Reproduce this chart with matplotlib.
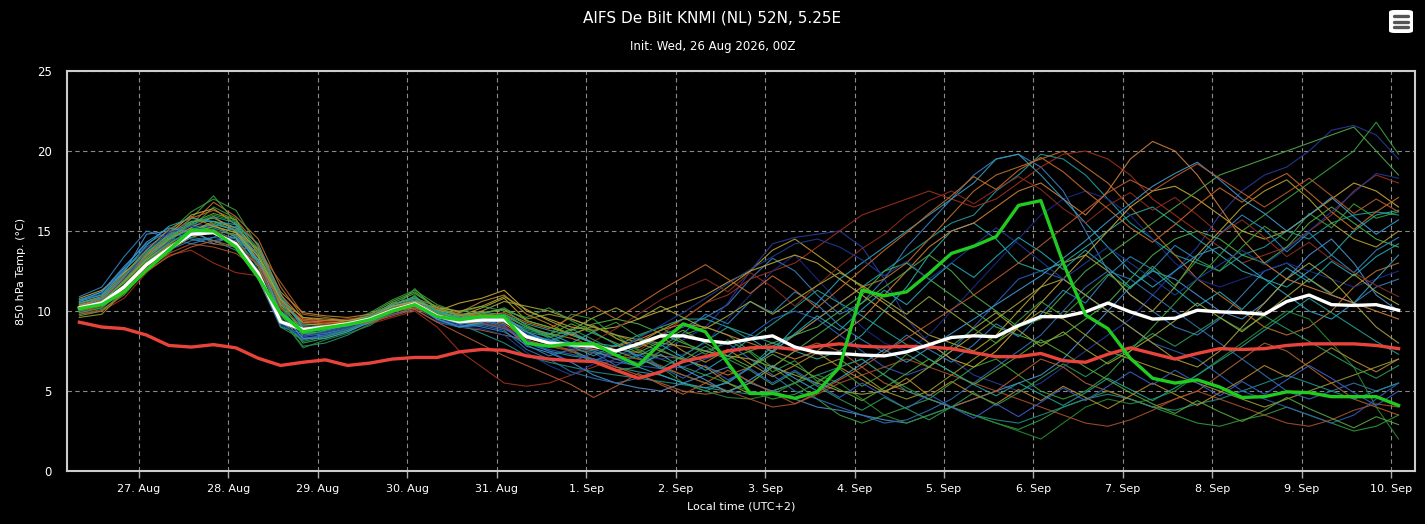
import matplotlib
matplotlib.use('Agg')
from matplotlib import pyplot as plt
import matplotlib.dates as mdates
from matplotlib.patches import FancyBboxPatch
import pandas as pd

# 6-hourly steps, local time (UTC+2), from 26 Aug 08:00 to 10 Sep 02:00
times = pd.date_range('2026-08-26 08:00', periods=60, freq='6h')

mean_run = [10.2, 10.5, 11.5, 12.9, 13.9, 14.8, 14.9, 14.2, 12.35, 9.33, 8.85, 9.0, 9.2, 9.5, 10.05,
            10.45, 9.7, 9.33, 9.44, 9.44, 8.4, 8.0, 7.9, 7.8, 7.5, 7.95, 8.45, 8.45, 8.15, 8.0,
            8.25, 8.45, 7.75, 7.4, 7.35, 7.25, 7.2, 7.45, 7.9, 8.35, 8.45, 8.4, 9.1, 9.65, 9.65,
            9.95, 10.5, 9.95, 9.5, 9.55, 10.05, 9.95, 9.9, 9.8, 10.6, 11.0, 10.4, 10.35, 10.4, 10.05]

control_run = [10.15, 10.4, 11.2, 12.55, 13.8, 15.05, 15.0, 14.0, 12.1, 9.85, 8.7, 8.95, 9.15, 9.45, 10.0,
               10.4, 9.65, 9.45, 9.65, 9.65, 8.0, 7.8, 7.95, 7.95, 7.25, 6.6, 8.0, 9.2, 8.7, 6.75,
               4.85, 4.85, 4.55, 4.95, 6.5, 11.3, 10.95, 11.2, 12.35, 13.6, 14.05, 14.65, 16.6, 16.9, 13.0,
               9.75, 8.9, 7.05, 5.8, 5.5, 5.7, 5.25, 4.6, 4.65, 4.95, 4.9, 4.65, 4.65, 4.65, 4.1]

climate = [9.3, 9.0, 8.9, 8.5, 7.85, 7.75, 7.9, 7.7, 7.05, 6.6, 6.8, 6.95, 6.6, 6.75, 7.0,
           7.1, 7.1, 7.45, 7.6, 7.55, 7.2, 7.0, 6.9, 6.85, 6.3, 5.8, 6.2, 6.85, 7.15, 7.5,
           7.7, 7.75, 7.6, 7.8, 7.95, 7.8, 7.75, 7.8, 7.75, 7.65, 7.4, 7.15, 7.15, 7.35, 6.9,
           6.8, 7.3, 7.7, 7.35, 7.0, 7.35, 7.65, 7.6, 7.65, 7.85, 7.95, 7.95, 7.95, 7.85, 7.65]

members = [
    [10.6, 11.2, 12.8, 14.2, 15.0, 15.5, 15.2, 14.0, 12.0, 9.0, 8.6, 8.8, 9.1, 9.4, 10.2, 10.6, 9.9, 9.6, 9.5, 9.6, 8.6,
     8.2, 8.0, 7.6, 7.2, 7.8, 8.5, 9.0, 9.6, 10.4, 12.0, 13.3, 12.5, 11.0, 9.8, 10.5,
     12.0, 14.0, 15.5, 17.0, 18.5, 19.5, 19.8, 19.0, 17.5, 15.0, 12.5, 11.0,
     10.0, 9.0, 8.5, 9.5, 11.0, 12.5, 13.0, 12.0, 11.0, 10.5, 11.5, 12.0],
    [10.0, 10.4, 11.6, 13.0, 14.2, 15.0, 15.3, 14.6, 12.8, 9.6, 8.8, 9.0, 9.3, 9.7, 10.1, 10.3, 9.5, 9.2, 9.3, 9.0, 8.3,
     8.1, 7.7, 7.4, 7.0, 6.8, 7.5, 8.2, 9.0, 10.5, 12.5, 14.2, 14.6, 14.8, 15.0, 14.0,
     12.0, 9.5, 8.0, 7.0, 6.0, 5.5, 5.0, 5.5, 6.5, 7.5, 8.5, 9.5,
     11.0, 12.5, 14.0, 16.0, 17.5, 18.5, 19.0, 20.0, 21.3, 21.6, 21.0, 19.5],
    [9.8, 10.1, 11.0, 12.6, 13.6, 15.2, 16.5, 15.8, 12.5, 9.0, 8.2, 8.5, 8.8, 9.3, 9.9, 11.0, 9.4, 9.0, 9.2, 9.5, 8.8,
     8.5, 9.8, 9.5, 8.3, 7.6, 7.0, 6.5, 6.0, 5.5, 5.0, 4.5, 4.8, 5.5, 6.5, 7.0,
     6.0, 5.2, 4.5, 4.0, 3.5, 3.0, 2.6, 3.2, 4.0, 4.5, 5.0, 4.5,
     4.0, 3.5, 3.0, 2.8, 3.2, 3.5, 4.0, 3.5, 3.0, 2.5, 2.8, 3.5],
    [10.4, 10.8, 12.0, 13.6, 14.6, 15.4, 15.0, 14.5, 12.8, 10.0, 8.6, 8.7, 9.0, 9.5, 10.3, 10.6, 9.8, 9.3, 9.4, 9.0, 8.0,
     7.5, 7.2, 7.0, 6.5, 6.2, 6.0, 5.5, 5.0, 5.6, 6.5, 7.8, 8.5, 9.5, 10.5, 11.5,
     12.5, 13.5, 14.5, 15.5, 16.0, 17.5, 18.5, 19.8, 19.5, 18.5, 17.0, 15.5,
     14.5, 13.5, 13.0, 12.5, 13.5, 14.0, 15.0, 14.5, 15.5, 16.0, 16.2, 16.0],
    [10.1, 10.3, 11.4, 12.8, 13.8, 14.6, 15.0, 14.8, 13.2, 10.5, 9.3, 9.2, 9.4, 9.6, 10.0, 10.2, 9.8, 9.7, 10.2, 10.8, 9.4,
     9.0, 8.6, 8.0, 7.5, 8.0, 8.8, 9.5, 10.5, 11.5, 12.5, 13.8, 14.5, 13.5, 12.5, 11.5,
     10.5, 9.5, 8.5, 8.0, 7.5, 8.5, 10.0, 11.5, 13.0, 13.5, 12.5, 11.0,
     10.0, 11.5, 13.5, 15.0, 16.5, 17.5, 18.2, 17.0, 15.5, 14.5, 14.0, 15.0],
    [10.3, 10.6, 12.2, 13.5, 14.4, 15.4, 16.8, 15.9, 14.5, 11.5, 9.6, 9.4, 9.5, 9.6, 10.5, 10.7, 10.0, 9.6, 9.8, 9.7, 9.0,
     8.6, 8.3, 7.8, 7.6, 7.4, 7.2, 7.0, 6.5, 6.0, 6.5, 7.5, 8.5, 9.5, 10.5, 11.5,
     12.0, 13.0, 14.5, 16.0, 17.5, 18.5, 19.0, 19.5, 20.0, 19.0, 18.0, 16.5,
     15.0, 13.5, 12.0, 11.0, 10.0, 9.0, 8.5, 9.0, 10.0, 11.5, 12.5, 13.0],
    [9.9, 10.0, 10.8, 12.4, 13.5, 13.8, 13.0, 12.4, 12.2, 11.0, 9.5, 9.3, 9.1, 9.2, 9.6, 10.0, 9.0, 7.5, 6.5, 5.5, 5.3,
     5.5, 6.0, 6.5, 7.0, 7.5, 8.5, 9.5, 10.5, 11.0, 12.0, 12.5, 13.0, 14.0, 15.0, 16.0,
     16.5, 17.0, 17.5, 17.0, 16.5, 17.0, 18.0, 19.0, 19.8, 20.0, 19.5, 18.5,
     17.0, 16.0, 15.0, 14.0, 13.0, 13.5, 14.0, 15.0, 16.0, 17.5, 18.5, 18.0],
    [10.5, 10.9, 12.4, 14.8, 15.0, 14.5, 14.2, 14.8, 13.0, 10.2, 8.5, 8.6, 8.9, 9.4, 10.0, 10.3, 9.6, 9.4, 9.5, 9.1, 7.8,
     7.4, 6.8, 6.0, 5.5, 5.2, 5.0, 5.5, 6.0, 6.5, 5.5, 5.0, 4.5, 4.0, 3.8, 3.5,
     3.2, 3.0, 3.5, 4.0, 4.5, 5.0, 5.5, 6.0, 7.0, 8.5, 10.0, 11.5,
     12.5, 12.0, 11.0, 10.0, 9.5, 10.5, 12.0, 13.5, 14.5, 13.0, 11.0, 10.0],
    [10.2, 10.6, 11.8, 13.2, 14.4, 15.8, 17.2, 15.5, 13.0, 9.8, 8.0, 8.3, 8.7, 9.4, 10.1, 11.4, 10.0, 9.2, 9.3, 9.6, 8.5,
     8.0, 7.5, 6.8, 6.3, 6.5, 7.5, 8.5, 9.0, 8.5, 7.5, 6.5, 5.5, 4.5, 3.5, 3.0,
     3.5, 4.0, 4.5, 5.5, 6.5, 7.0, 6.0, 5.0, 4.5, 5.0, 6.0, 7.5,
     9.0, 10.5, 12.0, 13.5, 15.0, 16.0, 17.0, 18.0, 19.0, 20.0, 21.8, 19.8],
    [10.7, 11.0, 12.6, 13.8, 14.8, 15.6, 15.6, 15.0, 13.5, 10.8, 9.0, 8.9, 9.2, 9.6, 10.4, 10.8, 10.0, 9.8, 9.9, 9.8, 9.2,
     8.8, 8.5, 8.0, 7.8, 8.5, 9.0, 9.5, 9.5, 9.0, 8.5, 8.0, 7.5, 7.0, 7.5, 8.5,
     10.0, 11.5, 13.5, 15.0, 15.5, 14.5, 13.0, 12.5, 13.0, 14.0, 15.0, 16.0,
     16.5, 15.5, 14.5, 13.5, 12.5, 12.0, 11.5, 12.5, 13.5, 15.0, 16.0, 16.3],
    [9.6, 9.8, 11.2, 12.8, 14.0, 15.0, 15.4, 14.6, 12.0, 9.2, 8.7, 8.9, 9.2, 9.6, 10.2, 10.5, 9.9, 9.6, 9.9, 10.1, 9.5,
     9.8, 9.5, 9.0, 8.5, 8.0, 7.5, 7.0, 6.5, 5.5, 4.8, 5.0, 5.5, 6.5, 7.0, 6.0,
     5.0, 4.5, 5.0, 6.0, 7.0, 8.0, 9.0, 10.0, 9.5, 8.5, 7.5, 7.0,
     6.5, 6.0, 5.5, 5.0, 4.5, 4.0, 4.5, 5.0, 5.5, 6.0, 6.5, 7.0],
    [10.4, 10.9, 12.2, 13.9, 15.0, 15.5, 15.2, 14.2, 12.6, 9.4, 8.6, 8.8, 9.1, 9.5, 10.4, 10.7, 9.7, 9.4, 9.6, 9.3, 8.6,
     8.2, 8.0, 7.8, 7.5, 7.2, 7.0, 7.3, 8.0, 9.5, 11.0, 12.5, 13.5, 12.0, 10.5, 9.0,
     8.0, 7.5, 8.5, 10.0, 11.5, 13.0, 14.5, 16.0, 17.0, 17.5, 17.0, 16.0,
     14.5, 13.0, 12.0, 11.5, 12.0, 12.5, 13.0, 12.5, 12.0, 11.5, 12.0, 12.5],
    [10.0, 10.3, 11.5, 13.0, 14.5, 15.2, 14.2, 14.0, 13.8, 11.8, 9.8, 9.6, 9.4, 9.3, 9.8, 10.2, 9.5, 9.0, 8.8, 8.5, 8.2,
     7.8, 7.5, 7.0, 6.5, 6.0, 5.5, 5.0, 4.8, 5.0, 5.5, 6.5, 7.5, 8.0, 7.5, 6.5,
     5.5, 5.0, 4.5, 4.0, 4.5, 5.0, 6.0, 7.0, 6.5, 5.5, 5.0, 4.5,
     4.0, 4.5, 5.0, 6.0, 7.0, 8.0, 7.5, 6.5, 5.5, 4.5, 4.0, 3.5],
    [10.5, 10.8, 12.0, 13.4, 14.6, 15.6, 15.8, 15.2, 13.4, 10.4, 8.9, 9.0, 9.2, 9.8, 10.6, 11.2, 10.2, 9.8, 9.6, 9.8, 9.0,
     8.4, 8.8, 9.2, 9.5, 9.2, 8.6, 8.0, 7.5, 7.0, 7.5, 8.0, 8.5, 9.0, 10.0, 11.0,
     12.5, 13.0, 12.0, 11.0, 10.0, 9.0, 8.5, 8.0, 8.5, 9.5, 10.5, 12.0,
     13.5, 14.5, 15.0, 14.5, 13.5, 13.0, 14.0, 15.5, 16.5, 15.5, 14.5, 14.0],
    [9.9, 10.2, 11.3, 12.6, 13.8, 14.4, 14.6, 14.4, 12.2, 9.1, 8.4, 8.6, 8.9, 9.3, 9.8, 10.1, 9.3, 9.0, 9.1, 8.8, 7.6,
     7.0, 6.2, 5.8, 5.5, 5.8, 6.2, 6.8, 7.5, 8.0, 7.0, 6.0, 5.0, 4.5, 4.0, 3.5,
     3.0, 3.2, 3.8, 4.5, 5.5, 6.5, 7.5, 8.5, 10.0, 11.5, 12.5, 12.0,
     11.0, 10.0, 9.0, 8.0, 7.0, 6.0, 5.0, 4.5, 5.0, 5.5, 5.0, 5.5],
    [10.8, 11.3, 12.4, 13.6, 14.8, 16.0, 16.4, 15.4, 13.6, 10.6, 9.2, 9.1, 9.3, 9.6, 10.2, 10.5, 10.0, 10.5, 10.8, 11.3, 10.0,
     9.5, 9.0, 8.8, 9.0, 9.5, 10.0, 10.5, 11.0, 11.8, 12.5, 13.0, 13.5, 13.0, 12.0, 11.0,
     10.0, 9.0, 8.0, 7.0, 6.5, 7.5, 9.0, 10.5, 12.0, 13.5, 15.0, 16.5,
     17.5, 17.8, 17.0, 16.0, 15.0, 14.5, 15.0, 16.0, 17.0, 18.0, 17.5, 16.5],
    [10.2, 10.5, 11.6, 13.0, 14.0, 14.6, 14.4, 13.8, 12.5, 9.5, 7.8, 8.0, 8.5, 9.2, 10.0, 10.4, 9.6, 9.2, 8.6, 8.0, 7.2,
     6.8, 6.5, 6.2, 6.0, 5.8, 5.6, 5.4, 5.2, 5.0, 4.8, 5.0, 5.5, 6.0, 6.5, 7.0,
     6.0, 5.0, 4.5, 4.0, 3.5, 3.2, 3.0, 3.5, 4.0, 4.5, 4.8, 4.5,
     4.0, 3.8, 4.2, 4.5, 5.0, 5.5, 6.0, 5.5, 5.0, 4.5, 5.0, 5.5],
    [10.1, 10.4, 11.7, 13.1, 14.3, 15.4, 16.0, 15.6, 13.0, 9.6, 7.7, 8.2, 8.6, 9.1, 10.0, 10.4, 9.6, 9.4, 9.2, 9.0, 8.4,
     8.0, 8.6, 9.0, 8.5, 7.5, 6.5, 5.5, 5.0, 4.6, 4.5, 4.8, 5.5, 6.0, 5.5, 4.5,
     3.5, 3.0, 3.5, 4.0, 3.5, 3.0, 2.5, 2.0, 3.0, 4.0, 4.5, 4.2,
     4.5, 5.0, 6.0, 7.0, 8.0, 9.0, 10.0, 9.5, 8.0, 6.5, 4.0, 2.0],
    [10.3, 10.7, 11.9, 13.3, 14.5, 15.2, 15.9, 15.0, 13.2, 10.4, 9.4, 9.3, 9.3, 9.5, 10.1, 10.4, 9.9, 9.5, 9.6, 9.2, 8.3,
     8.0, 7.8, 7.6, 7.8, 8.2, 8.8, 9.2, 9.0, 8.5, 8.0, 7.5, 7.0, 7.5, 8.5, 9.5,
     11.0, 12.5, 14.0, 15.0, 15.5, 16.5, 17.5, 18.0, 17.0, 16.0, 17.5, 19.5,
     20.6, 20.0, 18.5, 16.5, 14.5, 13.0, 12.0, 11.5, 11.0, 10.5, 10.0, 9.5],
    [10.6, 11.1, 12.6, 14.0, 14.8, 15.3, 15.0, 14.3, 12.4, 9.3, 8.3, 8.5, 8.9, 9.4, 10.2, 10.5, 9.6, 9.3, 9.4, 9.1, 8.0,
     7.6, 7.3, 7.0, 6.8, 6.6, 6.4, 6.5, 7.0, 7.5, 8.5, 9.5, 10.0, 9.5, 8.5, 7.5,
     6.5, 6.0, 6.5, 7.5, 9.0, 10.5, 12.0, 12.5, 12.0, 11.0, 10.0, 9.0,
     8.0, 7.5, 7.0, 6.0, 5.0, 4.5, 4.0, 3.5, 3.0, 3.5, 4.5, 5.5],
    [9.7, 10.0, 11.2, 12.9, 13.9, 15.0, 15.5, 15.0, 12.8, 9.8, 8.6, 8.7, 9.0, 9.6, 10.4, 10.9, 9.9, 9.5, 9.8, 10.2, 9.4,
     9.0, 8.5, 8.0, 7.5, 7.0, 6.5, 6.0, 5.5, 5.0, 5.5, 6.5, 7.5, 8.5, 9.5, 10.5,
     11.5, 12.5, 13.5, 12.5, 11.0, 10.0, 9.0, 9.5, 11.0, 12.5, 13.5, 14.5,
     15.5, 16.5, 17.5, 18.5, 19.0, 19.5, 20.0, 20.5, 21.0, 21.5, 20.0, 18.5],
    [10.0, 10.2, 11.4, 12.7, 13.6, 14.2, 14.0, 13.6, 12.6, 10.2, 9.0, 9.0, 9.2, 9.4, 9.9, 10.3, 9.6, 9.3, 9.2, 8.9, 8.1,
     7.8, 7.6, 7.4, 7.2, 7.0, 6.6, 6.0, 5.5, 5.0, 4.5, 4.0, 4.2, 4.8, 5.5, 6.0,
     6.5, 7.0, 6.5, 6.0, 5.5, 5.0, 4.5, 4.0, 3.5, 3.0, 2.8, 3.2,
     3.8, 4.5, 5.0, 4.5, 4.0, 3.5, 3.0, 2.8, 3.2, 3.8, 4.2, 4.0],
    [10.3, 10.8, 12.1, 13.5, 14.5, 15.1, 15.4, 15.1, 13.0, 10.0, 8.8, 8.9, 9.1, 9.5, 10.3, 10.6, 9.8, 9.5, 9.5, 9.4, 8.5,
     8.2, 7.8, 7.5, 7.0, 6.5, 6.0, 5.5, 5.2, 5.5, 6.5, 7.5, 9.0, 10.5, 12.0, 13.0,
     14.0, 15.0, 16.0, 17.0, 18.0, 19.5, 19.8, 18.5, 17.0, 15.5, 14.0, 12.5,
     11.5, 12.5, 13.5, 14.0, 13.0, 12.0, 11.0, 10.0, 9.5, 10.5, 12.0, 13.5],
    [10.4, 10.6, 11.8, 13.2, 14.2, 15.0, 15.6, 15.2, 13.8, 10.8, 9.2, 9.1, 9.2, 9.6, 10.3, 10.6, 10.1, 9.7, 10.0, 10.6, 10.3,
     10.0, 9.5, 9.0, 8.5, 8.2, 8.0, 7.8, 7.5, 7.2, 7.0, 6.5, 6.0, 5.5, 5.0, 4.8,
     5.0, 5.5, 6.5, 7.5, 8.5, 9.5, 10.5, 11.5, 12.0, 11.0, 10.0, 9.0,
     8.0, 7.0, 6.5, 7.5, 9.0, 10.5, 12.0, 13.0, 12.0, 10.5, 9.0, 8.0],
    [10.9, 11.5, 13.4, 15.0, 14.6, 14.2, 14.6, 15.3, 13.4, 10.6, 8.7, 8.4, 8.8, 9.3, 10.1, 10.5, 9.7, 9.3, 9.0, 8.7, 7.9,
     7.2, 7.6, 6.9, 7.4, 8.3, 7.8, 8.6, 9.8, 9.2, 10.6, 9.9, 11.2, 10.4, 9.1, 8.2,
     7.4, 8.5, 7.6, 6.8, 7.9, 9.2, 8.4, 9.8, 11.3, 10.5, 12.2, 13.4,
     12.6, 14.1, 13.2, 14.8, 16.0, 15.1, 13.7, 14.9, 13.5, 12.4, 13.8, 14.6],
    [10.0, 10.5, 11.9, 13.6, 14.9, 16.2, 17.0, 16.3, 14.0, 10.8, 8.4, 8.8, 9.3, 9.9, 10.7, 11.3, 10.4, 9.9, 10.3, 10.0, 9.6,
     10.2, 9.4, 8.7, 9.3, 8.4, 9.0, 8.1, 7.3, 8.2, 7.4, 6.2, 6.9, 5.6, 6.4, 5.3,
     6.1, 7.3, 6.5, 7.8, 8.9, 8.0, 9.4, 10.6, 9.7, 11.0, 12.3, 11.4,
     12.8, 11.6, 13.2, 12.5, 14.0, 15.3, 14.4, 16.1, 15.2, 16.7, 15.8, 16.2],
    [10.5, 10.9, 12.3, 13.8, 15.1, 15.9, 15.3, 14.9, 13.9, 11.2, 9.9, 9.7, 9.6, 9.8, 10.4, 10.8, 10.3, 9.9, 10.6, 11.0, 9.8,
     9.2, 8.5, 9.1, 8.3, 7.7, 8.4, 7.5, 6.8, 7.6, 6.7, 5.9, 6.6, 7.4, 6.5, 5.7,
     4.9, 5.8, 4.7, 5.6, 4.8, 4.2, 5.1, 4.4, 5.3, 4.6, 3.9, 4.7,
     5.5, 4.8, 4.1, 4.9, 5.7, 6.6, 5.9, 6.8, 7.7, 6.9, 6.2, 7.0],
    [10.1, 10.3, 11.3, 12.9, 14.1, 14.9, 15.1, 14.3, 12.9, 10.1, 9.2, 9.3, 9.5, 9.7, 10.2, 10.5, 9.8, 9.4, 9.3, 9.0, 8.4,
     8.0, 7.4, 8.1, 8.9, 9.8, 10.7, 11.4, 12.0, 11.2, 12.4, 11.5, 10.3, 11.6, 12.8, 13.9,
     14.8, 16.0, 16.9, 17.5, 16.7, 17.6, 18.4, 17.6, 16.4, 15.5, 16.6, 17.4,
     16.3, 17.1, 16.0, 14.8, 15.7, 14.6, 13.4, 14.3, 13.2, 12.4, 11.6, 10.9],
    [10.6, 11.0, 12.5, 14.1, 15.3, 15.8, 15.6, 15.4, 14.2, 11.1, 8.9, 8.8, 9.1, 9.6, 10.3, 10.7, 10.0, 9.6, 9.7, 9.5, 8.9,
     8.6, 8.0, 8.7, 7.9, 7.2, 7.9, 7.1, 6.3, 7.2, 8.3, 7.4, 8.6, 9.7, 8.8, 10.1,
     11.3, 10.4, 11.8, 13.0, 12.1, 13.4, 14.6, 13.7, 12.6, 13.8, 12.7, 11.5,
     12.6, 11.4, 10.3, 11.2, 10.1, 11.5, 12.7, 11.8, 13.1, 12.2, 13.4, 14.2],
    [10.2, 10.7, 12.1, 13.3, 14.3, 14.9, 15.0, 14.1, 12.3, 9.3, 8.2, 8.5, 8.8, 9.3, 10.0, 10.4, 9.5, 9.1, 9.2, 8.9, 8.2,
     7.5, 6.8, 7.4, 6.6, 7.3, 6.5, 5.8, 6.6, 5.7, 6.4, 5.5, 6.3, 5.4, 4.6, 5.5,
     4.7, 3.9, 4.8, 4.0, 3.3, 4.2, 3.4, 4.3, 5.2, 4.4, 5.3, 6.2,
     5.4, 6.3, 5.5, 4.7, 5.6, 4.8, 5.7, 6.6, 5.8, 4.9, 4.1, 5.0],
    [10.4, 10.7, 12.1, 13.5, 14.7, 15.8, 16.3, 15.7, 14.1, 11.0, 9.5, 9.4, 9.4, 9.6, 10.2, 10.6, 10.1, 9.8, 9.7, 9.9, 9.3,
     8.9, 9.6, 10.3, 9.5, 10.4, 11.3, 12.1, 12.9, 12.0, 11.1, 12.2, 11.3, 10.2, 11.4, 12.6,
     13.8, 14.9, 16.1, 17.2, 18.4, 17.6, 18.8, 19.6, 18.7, 17.5, 16.4, 15.2,
     14.3, 15.4, 16.6, 17.7, 16.8, 17.9, 18.6, 17.4, 16.2, 15.1, 16.2, 17.1],
    [9.9, 10.2, 11.5, 13.1, 14.2, 15.1, 15.2, 14.7, 12.4, 9.4, 8.1, 8.4, 8.8, 9.4, 10.2, 10.8, 9.9, 9.4, 9.6, 9.8, 9.0,
     8.3, 8.9, 8.2, 7.5, 8.3, 7.6, 6.9, 7.8, 7.0, 6.3, 5.4, 6.2, 5.3, 4.5, 3.8,
     4.6, 3.9, 3.2, 4.0, 4.9, 4.1, 4.9, 5.8, 6.7, 5.9, 6.8, 7.7,
     8.6, 7.8, 8.7, 9.6, 8.8, 9.7, 8.9, 8.1, 7.3, 6.5, 5.8, 6.6],
    [10.3, 10.5, 11.6, 13.0, 14.1, 14.8, 15.3, 14.9, 13.4, 10.7, 9.6, 9.5, 9.4, 9.7, 10.3, 10.6, 10.2, 10.0, 10.3, 10.9, 10.1,
     9.4, 8.8, 9.6, 10.2, 9.5, 10.3, 9.6, 8.9, 9.7, 10.6, 9.8, 10.7, 11.6, 12.4, 11.6,
     10.7, 9.8, 10.9, 9.9, 8.9, 9.9, 8.8, 7.8, 8.7, 7.6, 6.7, 7.5,
     8.4, 9.4, 10.5, 9.6, 8.7, 9.8, 10.9, 12.0, 11.1, 12.3, 11.2, 10.4],
    [10.1, 10.6, 12.0, 13.7, 14.9, 15.3, 14.9, 13.9, 12.1, 9.2, 8.4, 8.7, 9.0, 9.4, 10.1, 10.4, 9.4, 9.0, 8.9, 8.5, 7.4,
     6.6, 6.0, 6.7, 7.5, 8.3, 9.1, 9.9, 10.8, 11.7, 12.6, 13.4, 14.2, 14.5, 14.0, 13.2,
     12.2, 13.1, 12.0, 13.0, 14.1, 15.2, 14.2, 13.1, 12.0, 13.0, 14.0, 13.0,
     12.0, 11.0, 12.0, 12.9, 13.8, 12.9, 13.9, 15.0, 16.2, 17.4, 18.6, 18.3],
    [10.7, 11.2, 12.7, 14.3, 15.2, 14.9, 14.4, 14.6, 13.2, 9.9, 8.3, 8.3, 8.7, 9.3, 10.1, 10.4, 9.5, 9.0, 9.3, 9.7, 8.7,
     8.1, 8.7, 8.0, 7.3, 6.6, 7.3, 6.4, 5.7, 4.9, 5.7, 6.6, 5.8, 5.0, 5.8, 6.7,
     7.6, 6.8, 7.7, 8.6, 9.5, 10.4, 11.3, 12.2, 13.3, 14.4, 15.6, 16.7,
     17.8, 18.6, 19.3, 18.2, 17.0, 16.1, 15.0, 16.0, 17.1, 15.9, 14.8, 15.7],
    [10.2, 10.6, 11.9, 13.3, 14.5, 15.5, 16.1, 15.7, 13.6, 10.3, 8.8, 8.9, 9.1, 9.6, 10.5, 11.1, 10.2, 9.7, 9.9, 10.1, 9.1,
     8.5, 9.2, 8.6, 8.0, 7.4, 8.1, 8.8, 8.0, 7.2, 6.5, 7.3, 6.6, 5.8, 5.1, 4.4,
     5.2, 6.1, 7.0, 6.2, 5.4, 6.3, 7.2, 8.2, 7.4, 6.5, 5.7, 4.9,
     4.2, 3.6, 4.4, 3.7, 3.1, 3.8, 4.6, 3.9, 3.3, 2.7, 3.4, 2.9],
    [9.8, 10.0, 11.1, 12.5, 13.4, 14.0, 14.4, 14.0, 12.9, 10.6, 9.4, 9.2, 9.1, 9.3, 9.7, 10.1, 9.3, 8.6, 7.9, 7.2, 6.6,
     6.0, 5.4, 4.6, 5.3, 6.1, 5.4, 4.8, 5.5, 6.3, 5.6, 4.9, 4.2, 4.9, 5.7, 6.5,
     7.4, 8.3, 9.2, 10.1, 11.0, 12.0, 13.0, 14.1, 15.2, 16.3, 17.4, 18.2,
     17.5, 18.4, 19.2, 18.3, 17.4, 16.5, 17.4, 18.3, 17.2, 16.1, 17.0, 16.2],
    [10.5, 10.8, 12.2, 13.7, 14.7, 15.4, 15.9, 15.5, 13.9, 10.9, 9.1, 9.0, 9.2, 9.7, 10.4, 10.9, 10.0, 9.6, 9.5, 9.3, 8.7,
     8.4, 7.8, 7.2, 7.9, 7.1, 6.4, 7.2, 8.1, 9.0, 8.2, 9.2, 10.2, 11.3, 10.5, 9.7,
     8.8, 7.9, 7.0, 6.2, 5.4, 4.7, 5.5, 4.8, 4.1, 4.9, 5.8, 5.1,
     4.4, 5.2, 6.0, 6.9, 7.8, 8.8, 9.8, 10.8, 9.9, 9.0, 8.1, 7.3],
]

member_colors = ['#3a7fc0', '#2a3a9a', '#2f9a3a', '#1f9e9e', '#b8a030', '#c0702a',
                 '#a0301e', '#4a90d0', '#3aa040', '#28a8a0', '#9a9a30', '#1c2a8a',
                 '#b06030', '#4ab04a', '#3070b0', '#c8a838', '#20908a', '#2a8a30',
                 '#d0803a', '#2c5cb8', '#50a848', '#a85028', '#30a0c0', '#a8a040',
                 '#2e86c1', '#3c9c3c', '#b88a2a', '#8c2c20', '#20a8b8', '#3a5ec8',
                 '#c86a28', '#2a9a5a', '#a0a838', '#1e3c96', '#3d9ad0', '#5aa838',
                 '#b85a30', '#22a090']

fig = plt.figure(figsize=(14.25, 5.24), dpi=100, facecolor='black')
ax = fig.add_axes([0.047, 0.101, 0.946, 0.7635], facecolor='black')

for vals, col in zip(members, member_colors):
    ax.plot(times, vals, color=col, lw=0.8, alpha=0.9)

ax.plot(times, climate, color='#e8443c', lw=2.4)
ax.plot(times, mean_run, color='white', lw=2.4)
ax.plot(times, control_run, color='#20cc20', lw=2.4)

ax.set_ylim(0, 25)
ax.set_yticks([0, 5, 10, 15, 20, 25])
ax.set_xlim(pd.Timestamp('2026-08-26 04:40'), pd.Timestamp('2026-09-10 06:25'))
ax.set_xticks(pd.date_range('2026-08-27', '2026-09-10', freq='D'))
ax.xaxis.set_major_formatter(mdates.DateFormatter('%-d. %b'))

ax.grid(True, color='#8a8a8a', linestyle=(0, (4, 3)), lw=0.8)
for s in ax.spines.values():
    s.set_color('#cccccc')
    s.set_linewidth(1.5)
ax.tick_params(axis='x', colors='white', labelsize=8, length=5, width=1, color='#aaaaaa', pad=4)
ax.tick_params(axis='y', colors='white', labelsize=8.5, length=0, pad=11)

ax.set_xlabel('Local time (UTC+2)', color='white', fontsize=8, labelpad=6)
ax.set_ylabel('850 hPa Temp. (°C)', color='white', fontsize=8, labelpad=8)

fig.text(0.5, 0.965, 'AIFS De Bilt KNMI (NL) 52N, 5.25E', color='white', fontsize=11,
         ha='center', va='center')
fig.text(0.5, 0.912, 'Init: Wed, 26 Aug 2026, 00Z', color='white', fontsize=8.5,
         ha='center', va='center')

# menu button top right
btn = FancyBboxPatch((1389 / 1425, 1 - 33 / 524), 24 / 1425, 23 / 524,
                     boxstyle='round,pad=0,rounding_size=0.004', transform=fig.transFigure,
                     facecolor='white', edgecolor='none')
fig.patches.append(btn)
for yy in (16, 21.5, 27):
    fig.add_artist(plt.Line2D([1394 / 1425, 1408 / 1425], [1 - yy / 524, 1 - yy / 524],
                              transform=fig.transFigure, color='#555555', lw=2.4,
                              solid_capstyle='round'))

fig.savefig('out.png', dpi=100, facecolor='black')
